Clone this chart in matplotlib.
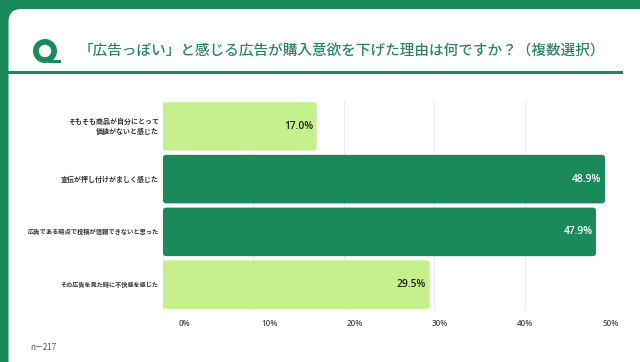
import matplotlib
matplotlib.use("Agg")
import matplotlib.pyplot as plt
from matplotlib.patches import FancyBboxPatch, Rectangle, PathPatch, Wedge
from matplotlib.path import Path

plt.rcParams['font.family'] = ['Noto Sans CJK JP', 'DejaVu Sans']

title = "「広告っぽい」と感じる広告が購入意欲を下げた理由は何ですか？（複数選択）"
labels = ["そもそも商品が自分にとって\n価値がないと感じた",
          "宣伝が押し付けがましく感じた",
          "広告である時点で投稿が信頼できないと思った",
          "その広告を見た時に不快感を感じた"]
values = [17.0, 48.9, 47.9, 29.5]
ticks = [0, 10, 20, 30, 40, 50]
tick_px = [184, 270, 355, 440, 525, 611]
label_sizes = [5.0, 5.0, 4.5, 4.4]

GREEN = "#1b8a5a"
LIGHT = "#c5f08e"
TITLE_C = "#2f8468"

fig = plt.figure(figsize=(6.4, 3.62), dpi=100)

# frame, header and logo in pixel coordinates
bg = fig.add_axes([0, 0, 1, 1])
bg.set_xlim(0, 640)
bg.set_ylim(362, 0)
bg.axis("off")
bg.add_patch(Rectangle((0, 0), 640, 362, color=GREEN, lw=0))
r = 13
x0, y0 = 8.5, 9
corner = Path([(x0, 370), (x0, y0 + r), (x0, y0), (x0 + r, y0), (650, y0), (650, 370), (x0, 370)],
              [Path.MOVETO, Path.LINETO, Path.CURVE3, Path.CURVE3, Path.LINETO, Path.LINETO, Path.CLOSEPOLY])
bg.add_patch(PathPatch(corner, fc="white", ec="none"))
bg.add_patch(Rectangle((8, 71), 615, 3, color=GREEN, lw=0))
bg.add_patch(Wedge((45, 51), 12, 0, 360, width=5.8, color=GREEN, lw=0))
bg.add_patch(Rectangle((48, 59.5), 13, 3.5, color=GREEN, lw=0))
bg.text(341.5, 51, title, fontsize=10.5, color=TITLE_C, ha="center", va="center", fontweight="medium")
bg.text(30, 347, "n－217", fontsize=5.8, color="#555555", va="center")
for t, px in zip(ticks, tick_px):
    bg.text(px, 323, f"{t}%", fontsize=5.8, color="#4a4a4a", ha="center", va="center", fontweight="semibold",
            family=["Open Sans", "DejaVu Sans"])

ax = fig.add_axes([163 / 640, 1 - 311 / 362, 452 / 640, 211 / 362])
ax.patch.set_alpha(0)
ax.set_xlim(0, 50)
ax.set_ylim(3.5, -0.5)
for s in ax.spines.values():
    s.set_visible(False)
ax.set_xticks(ticks)
ax.set_xticklabels([])
ax.tick_params(length=0)
ax.grid(axis="x", color="#eeeeee", lw=0.8)
ax.set_axisbelow(True)
ax.set_yticks(range(len(labels)))
ax.set_yticklabels([])

h = 0.92
for i, v in enumerate(values):
    dark = v > 40
    ax.add_patch(FancyBboxPatch((0, i - h / 2), v, h,
                                boxstyle="round,pad=0,rounding_size=0.35",
                                mutation_aspect=0.171,
                                fc=GREEN if dark else LIGHT, ec="none", zorder=3))
    ax.text(v - 0.4, i, f"{v:.1f}%", ha="right", va="center", fontsize=7.4, fontweight="semibold",
            color="white" if dark else "#222222", zorder=4, family=["Open Sans", "DejaVu Sans"])
    ax.text(-0.45, i, labels[i], ha="right", va="center", fontsize=label_sizes[i], fontweight="bold",
            color="#333333", linespacing=1.35, clip_on=False)

fig.savefig("out.png", dpi=100)
